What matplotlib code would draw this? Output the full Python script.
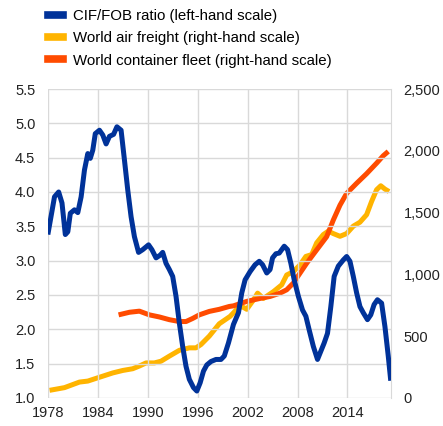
import matplotlib.pyplot as plt
from matplotlib.lines import Line2D

plt.rcParams['font.family'] = ['Liberation Sans', 'DejaVu Sans']

# ===== DATA =====
# CIF/FOB ratio (left-hand scale)
cif_years = [1978.0, 1978.8, 1979.3, 1979.7, 1980.1, 1980.4, 1980.7, 1981.2, 1981.6, 1982.0,
             1982.4, 1982.8, 1983.1, 1983.4, 1983.7, 1984.2, 1984.6, 1985.0, 1985.4, 1985.9,
             1986.3, 1986.8, 1987.2, 1987.6, 1988.0, 1988.4, 1988.9, 1989.4, 1990.1, 1990.5,
             1991.0, 1991.5, 1991.8, 1992.2, 1992.6, 1993.0, 1993.4, 1993.8, 1994.2, 1994.6,
             1995.0, 1995.5, 1995.9, 1996.3, 1996.7, 1997.1, 1997.6, 1998.2, 1998.8, 1999.2,
             1999.7, 2000.3, 2000.9, 2001.3, 2001.7, 2002.3, 2002.9, 2003.4, 2003.8, 2004.3,
             2004.7, 2005.0, 2005.4, 2005.8, 2006.4, 2006.8, 2007.2, 2007.6, 2008.1, 2008.6,
             2009.0, 2009.4, 2009.9, 2010.4, 2010.8, 2011.2, 2011.6, 2012.0, 2012.4, 2012.9,
             2013.5, 2013.9, 2014.3, 2014.7, 2015.1, 2015.5, 2015.9, 2016.4, 2016.8, 2017.2,
             2017.6, 2018.1, 2018.5, 2018.9, 2019.2]
cif_ratio = [3.38, 3.93, 4.00, 3.84, 3.38, 3.42, 3.69, 3.74, 3.70, 3.93,
             4.32, 4.56, 4.49, 4.61, 4.85, 4.90, 4.83, 4.70, 4.81, 4.84,
             4.95, 4.90, 4.47, 4.03, 3.64, 3.35, 3.12, 3.16, 3.23, 3.16,
             3.04, 3.08, 3.12, 2.96, 2.87, 2.77, 2.48, 2.09, 1.75, 1.46,
             1.27, 1.15, 1.10, 1.22, 1.39, 1.48, 1.53, 1.56, 1.56, 1.61,
             1.80, 2.07, 2.24, 2.53, 2.72, 2.84, 2.94, 2.99, 2.94, 2.82,
             2.87, 3.04, 3.10, 3.11, 3.21, 3.16, 2.96, 2.72, 2.48, 2.28,
             2.19, 1.99, 1.75, 1.56, 1.68, 1.80, 1.94, 2.33, 2.77, 2.92,
             3.01, 3.06, 2.99, 2.77, 2.53, 2.33, 2.24, 2.14, 2.21, 2.36,
             2.43, 2.38, 2.04, 1.61, 1.25]

# World air freight (right-hand scale)
air_years = [1978.2, 1980.0, 1981.8, 1982.8, 1984.2, 1985.8, 1987.0, 1988.2, 1989.0, 1989.8,
             1990.8, 1991.6, 1992.6, 1993.8, 1995.0, 1995.8, 1996.4, 1997.4, 1998.6, 1999.9,
             2000.7, 2001.3, 2001.9, 2002.7, 2003.2, 2003.9, 2005.1, 2006.1, 2006.7, 2007.5,
             2008.3, 2009.0, 2009.7, 2010.3, 2011.1, 2011.7, 2012.3, 2013.1, 2013.9, 2014.7,
             2015.5, 2016.3, 2016.9, 2017.5, 2018.0, 2018.5, 2019.0]
air_freight = [61, 83, 128, 136, 167, 202, 222, 236, 258, 283,
               283, 297, 338, 385, 405, 405, 432, 500, 600, 660,
               717, 740, 717, 792, 848, 805, 860, 915, 995, 1022,
               1077, 1145, 1160, 1255, 1322, 1350, 1330, 1308, 1330, 1390,
               1422, 1483, 1590, 1685, 1717, 1690, 1670]

# World container fleet (right-hand scale)
fleet_years = [1986.5, 1987.8, 1989.0, 1990.2, 1991.4, 1992.6, 1993.8, 1994.6, 1995.4, 1996.2,
               1997.4, 1998.6, 1999.8, 2000.3, 2001.9, 2003.5, 2004.7, 2005.9, 2006.7, 2007.5,
               2008.3, 2009.1, 2010.3, 2011.5, 2012.3, 2013.1, 2013.9, 2015.1, 2016.3, 2017.5,
               2018.3, 2018.9]
container_fleet = [672, 693, 702, 672, 655, 633, 618, 618, 643, 672,
                   700, 717, 740, 745, 781, 805, 821, 848, 875, 930,
                   1010, 1090, 1198, 1305, 1440, 1560, 1655, 1737, 1815, 1900,
                   1960, 1995]

year_ticks = [1978, 1984, 1990, 1996, 2002, 2008, 2014]
left_ticks = [1.0, 1.5, 2.0, 2.5, 3.0, 3.5, 4.0, 4.5, 5.0, 5.5]
right_ticks = [0, 500, 1000, 1500, 2000, 2500]

BLUE = "#003299"
YELLOW = "#FFB400"
ORANGE = "#FF4B00"
GRID = "#d9d9d9"

# ===== PLOT =====
fig = plt.figure(figsize=(4.43, 4.26), dpi=100)
ax = fig.add_axes([0.108, 0.066, 0.775, 0.725])
ax2 = ax.twinx()

ax.set_xlim(1978, 2019.25)
ax.set_ylim(1.0, 5.5)
ax2.set_ylim(0, 2500)

ax.set_xticks(year_ticks)
ax.set_yticks(left_ticks)
ax.set_yticklabels([f"{v:.1f}" for v in left_ticks])
ax2.set_yticks(right_ticks)
ax2.set_yticklabels([f"{v:,}" for v in right_ticks])

ax.grid(True, color=GRID, linewidth=1)
ax.set_axisbelow(True)
for a in (ax, ax2):
    for s in a.spines.values():
        s.set_visible(False)
    a.tick_params(length=0, labelsize=10.5, colors="#222222")
ax.tick_params(axis="y", pad=9)
ax.tick_params(axis="x", pad=6)
ax2.tick_params(axis="y", pad=9)
ax2.spines["right"].set_visible(True)
ax2.spines["right"].set_color(GRID)

ax2.plot(air_years, air_freight, color=YELLOW, lw=3.6, solid_capstyle="butt")
ax2.plot(fleet_years, container_fleet, color=ORANGE, lw=3.6, solid_capstyle="butt")
ax2.set_zorder(ax.get_zorder() - 1)
ax.patch.set_visible(False)
ax.plot(cif_years, cif_ratio, color=BLUE, lw=3.6, solid_capstyle="butt")

handles = [Line2D([], [], color=BLUE, lw=5.5),
           Line2D([], [], color=YELLOW, lw=5.5),
           Line2D([], [], color=ORANGE, lw=5.5)]
labels = ["CIF/FOB ratio (left-hand scale)",
          "World air freight (right-hand scale)",
          "World container fleet (right-hand scale)"]
fig.legend(handles, labels, loc="upper left", bbox_to_anchor=(0.108, 0.979),
           frameon=False, fontsize=10.8, handlelength=1.0, handletextpad=0.67,
           labelspacing=0.56, borderaxespad=0, borderpad=0)

fig.savefig("out.png", dpi=100)
plt.close(fig)
